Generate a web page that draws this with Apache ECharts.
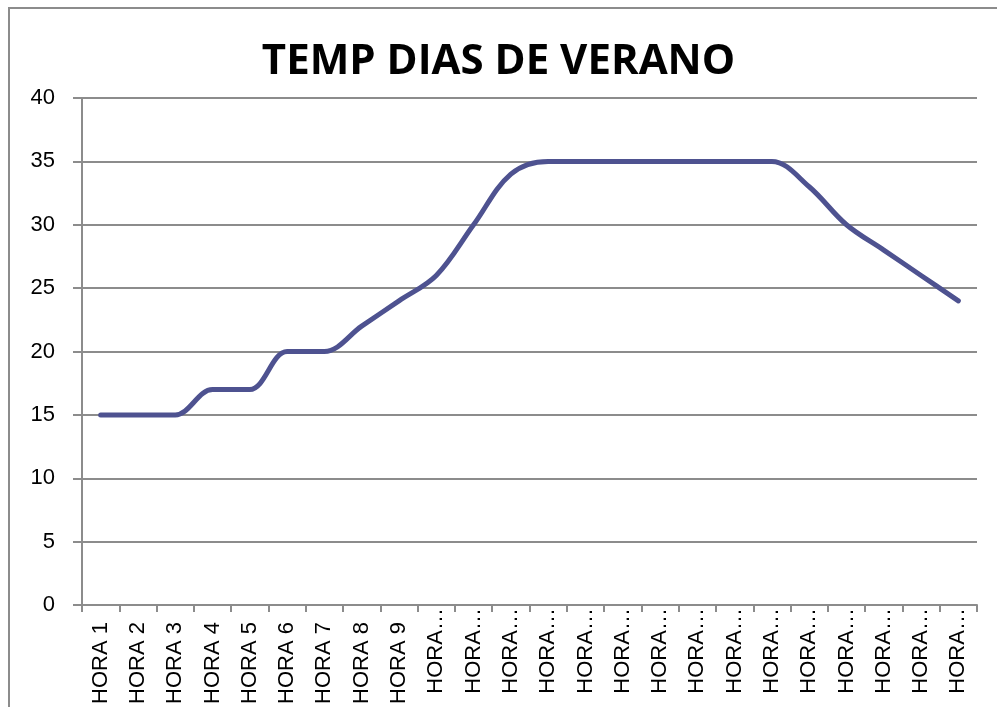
<!DOCTYPE html>
<html>
<head>
<meta charset="utf-8">
<script src="https://cdn.jsdelivr.net/npm/echarts@6/dist/echarts.min.js"></script>
<style>
  html, body { margin: 0; padding: 0; background: #fff; }
  #main { width: 997px; height: 707px; }
</style>
</head>
<body>
<div id="main"></div>
<script>
var titleText = 'TEMP DIAS DE VERANO';
var horas = ['HORA 1', 'HORA 2', 'HORA 3', 'HORA 4', 'HORA 5', 'HORA 6', 'HORA 7', 'HORA 8',
  'HORA 9', 'HORA 10', 'HORA 11', 'HORA 12', 'HORA 13', 'HORA 14', 'HORA 15', 'HORA 16',
  'HORA 17', 'HORA 18', 'HORA 19', 'HORA 20', 'HORA 21', 'HORA 22', 'HORA 23', 'HORA 24'];
var temps = [15, 15, 15, 17, 17, 20, 20, 22, 24, 26, 30, 34, 35, 35, 35, 35, 35, 35, 35, 33, 30, 28, 26, 24];
var yMin = 0, yMax = 40, yStep = 5;

var chart = echarts.init(document.getElementById('main'));

var option = {
  animation: false,
  backgroundColor: '#fff',
  graphic: [{
    type: 'rect',
    shape: { x: 9, y: 8, width: 1010, height: 720 },
    style: { fill: 'none', stroke: '#8c8c8c', lineWidth: 2 },
    silent: true
  }],
  title: {
    text: titleText,
    left: 'center',
    top: 36,
    textStyle: {
      fontFamily: '"Open Sans", sans-serif',
      fontWeight: 'bold',
      fontSize: 42,
      color: '#000'
    }
  },
  grid: {
    left: 82,
    right: 20,
    top: 98,
    bottom: 101,
    containLabel: false
  },
  xAxis: {
    type: 'category',
    data: horas,
    boundaryGap: true,
    axisLine: { lineStyle: { color: '#8c8c8c', width: 2 } },
    axisTick: { show: true, length: 7, interval: 0, lineStyle: { color: '#8c8c8c', width: 2 } },
    axisLabel: {
      interval: 0,
      rotate: 90,
      margin: 3,
      color: '#000',
      fontFamily: '"Liberation Sans", Arial, sans-serif',
      fontSize: 22,
      formatter: function (v) {
        if (v.length > 6) return '{cut|' + v.slice(0, 4) + '…}';
        return '{full|' + v + '}';
      },
      rich: {
        full: { fontSize: 22, fontFamily: '"Liberation Sans", Arial, sans-serif', color: '#000', padding: [0, 14, 0, 0] },
        cut: { fontSize: 22, fontFamily: '"Liberation Sans", Arial, sans-serif', color: '#000', padding: [0, 0, 0, 0] }
      }
    },
    splitLine: { show: false }
  },
  yAxis: {
    type: 'value',
    min: yMin,
    max: yMax,
    interval: yStep,
    axisLine: { show: true, lineStyle: { color: '#8c8c8c', width: 2 } },
    axisTick: { show: true, length: 9, lineStyle: { color: '#8c8c8c', width: 2 } },
    axisLabel: {
      margin: 27,
      color: '#000',
      fontFamily: '"Liberation Sans", Arial, sans-serif',
      fontSize: 22
    },
    splitLine: { show: true, lineStyle: { color: '#8c8c8c', width: 2 } }
  },
  series: [{
    name: 'Temp',
    type: 'line',
    data: temps,
    smooth: 0.35,
    showSymbol: false,
    lineStyle: { color: '#4E5290', width: 5, cap: 'round', join: 'round' },
    itemStyle: { color: '#4E5290' }
  }]
};

chart.setOption(option);
</script>
</body>
</html>
